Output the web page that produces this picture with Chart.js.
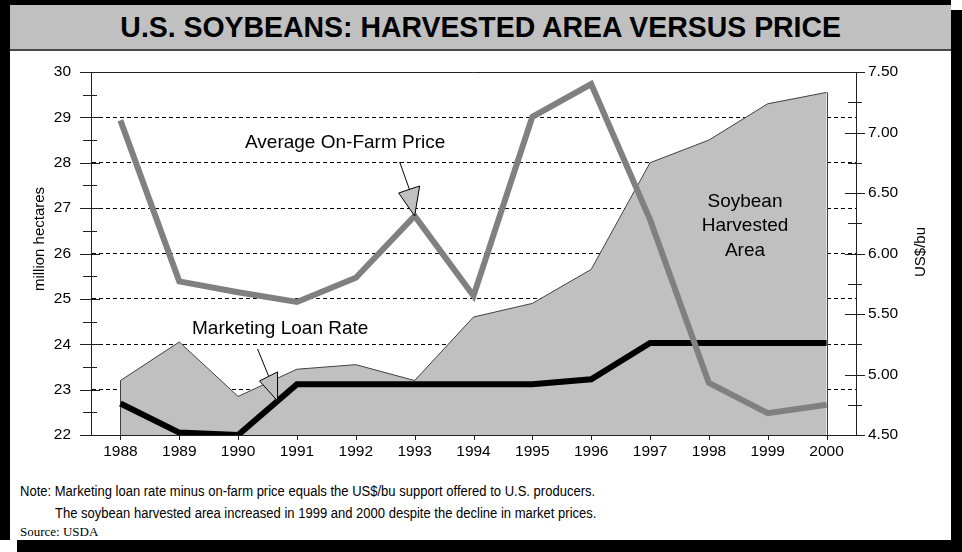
<!DOCTYPE html>
<html>
<head>
<meta charset="utf-8">
<title>U.S. Soybeans: Harvested Area versus Price</title>
<script src="https://cdn.jsdelivr.net/npm/chart.js@4.4.1/dist/chart.umd.min.js"></script>
<style>
  html, body { margin: 0; padding: 0; background: #fff; }
  #page { position: relative; width: 962px; height: 552px; overflow: hidden; background: #fff;
          font-family: "Liberation Sans", Arial, sans-serif; }
  #shadow { position: absolute; left: 17px; top: 10px; width: 945px; height: 542px; background: #000; }
  #panel { position: absolute; left: 0; top: 0; width: 941px; height: 535px; background: #fff;
           border-left: 10px solid #000; border-top: 5px solid #000; }
  #titleBand { position: absolute; left: 0; top: 0; width: 941px; height: 44px; background: #c0c0c0;
               border-bottom: 2px solid #4a4a4a; display: flex; align-items: center; justify-content: center; }
  #titleBand span { font-weight: bold; font-size: 29px; color: #000; display: inline-block; transform: scaleX(0.98); }
  .note { position: absolute; font-family: "Liberation Sans", Arial, sans-serif;
          font-size: 14px; line-height: 16px; color: #000; white-space: nowrap;
          transform: scaleX(0.93); transform-origin: left center; }
  .source { font-family: "Liberation Serif", "Times New Roman", serif; font-size: 13px; transform: none; }
  #chart { position: absolute; left: 0; top: 0; }
</style>
</head>
<body>
<div id="page">
  <div id="shadow"></div>
  <div id="panel">
    <div id="titleBand"><span>U.S. SOYBEANS: HARVESTED AREA VERSUS PRICE</span></div>
  </div>
  <div class="note" style="left:20px; top:483px;">Note: Marketing loan rate minus on-farm price equals the US$/bu support offered to U.S. producers.</div>
  <div class="note" style="left:55px; top:505px;">The soybean harvested area increased in 1999 and 2000 despite the decline in market prices.</div>
  <div class="note source" style="left:20px; top:524px;">Source: USDA</div>
  <canvas id="chart" width="962" height="552"></canvas>
</div>
<script>
  // Chart data
  const years = ['1988', '1989', '1990', '1991', '1992', '1993', '1994', '1995', '1996', '1997', '1998', '1999', '2000'];
  // soybean harvested area, million hectares (left axis)
  const harvestedArea = [23.2, 24.05, 22.85, 23.45, 23.55, 23.2, 24.6, 24.9, 25.65, 28.0, 28.5, 29.3, 29.55];
  // average on-farm price, US$/bu (right axis)
  const farmPrice = [7.10, 5.77, 5.68, 5.60, 5.80, 6.31, 5.65, 7.13, 7.40, 6.28, 4.93, 4.68, 4.75];
  // marketing loan rate, US$/bu (right axis)
  const loanRate = [4.76, 4.52, 4.50, 4.92, 4.92, 4.92, 4.92, 4.92, 4.96, 5.26, 5.26, 5.26, 5.26];

  // axis ranges and tick steps
  const areaTicks = [22, 23, 24, 25, 26, 27, 28, 29, 30];
  const priceTicks = ['4.50', '5.00', '5.50', '6.00', '6.50', '7.00', '7.50'];

  const FONT = '"Liberation Sans", Arial, sans-serif';

  // tick marks, frame top line, area edges, axis titles and callouts
  const decorations = {
    id: 'decorations',
    afterDatasetDraw(chart, args) {
      if (args.index !== 2) return;
      const ctx = chart.ctx;
      const pts = args.meta.data;
      const bottom = chart.chartArea.bottom;
      ctx.save();
      ctx.strokeStyle = '#404040';
      ctx.lineWidth = 1;
      ctx.beginPath();
      [pts[0], pts[pts.length - 1]].forEach(p => {
        const x = Math.round(p.x) + 0.5;
        ctx.moveTo(x, p.y);
        ctx.lineTo(x, bottom);
      });
      ctx.stroke();
      ctx.restore();
    },
    afterDatasetsDraw(chart) {
      const ctx = chart.ctx;
      const area = chart.chartArea;
      const yL = chart.scales.y;
      const yR = chart.scales.y2;
      const xS = chart.scales.x;
      ctx.save();
      ctx.strokeStyle = '#202020';
      ctx.lineWidth = 1;
      ctx.beginPath();
      // top frame line
      ctx.moveTo(area.left, area.top + 0.5);
      ctx.lineTo(area.right, area.top + 0.5);
      // left axis ticks
      for (let v = areaTicks[0]; v <= areaTicks[areaTicks.length - 1]; v += 0.5) {
        const y = Math.round(yL.getPixelForValue(v)) + 0.5;
        const major = Number.isInteger(v);
        ctx.moveTo(area.left - (major ? 11 : 8), y);
        ctx.lineTo(area.left + (major ? 9 : 6), y);
      }
      // right axis ticks
      const pMin = parseFloat(priceTicks[0]);
      const pMax = parseFloat(priceTicks[priceTicks.length - 1]);
      for (let i = 0; pMin + i * 0.25 <= pMax + 1e-9; i++) {
        const y = Math.round(yR.getPixelForValue(pMin + i * 0.25)) + 0.5;
        const major = i % 2 === 0;
        ctx.moveTo(area.right - (major ? 11 : 8), y);
        ctx.lineTo(area.right + (major ? 9 : 6), y);
      }
      // category ticks
      years.forEach((yr, i) => {
        const x = Math.round(xS.getPixelForValue(i)) + 0.5;
        ctx.moveTo(x, area.bottom);
        ctx.lineTo(x, area.bottom + 5);
      });
      ctx.stroke();

      // axis titles
      ctx.fillStyle = '#000';
      ctx.font = '15px ' + FONT;
      ctx.textAlign = 'center';
      ctx.textBaseline = 'middle';
      ctx.save();
      ctx.translate(40, 239);
      ctx.rotate(-Math.PI / 2);
      ctx.fillText('million hectares', 0, 0);
      ctx.restore();
      ctx.save();
      ctx.translate(921, 252);
      ctx.rotate(-Math.PI / 2);
      ctx.fillText('US$/bu', 0, 0);
      ctx.restore();

      // callout labels
      ctx.font = '19px ' + FONT;
      ctx.textAlign = 'left';
      ctx.fillText('Average On-Farm Price', 245, 143);
      ctx.fillText('Marketing Loan Rate', 192, 329);
      ctx.textAlign = 'center';
      ctx.fillText('Soybean', 745, 202);
      ctx.fillText('Harvested', 745, 226);
      ctx.fillText('Area', 745, 251);

      // arrows pointing at the series
      const arrow = (tx, ty, tail, tri) => {
        ctx.strokeStyle = '#000';
        ctx.lineWidth = 1;
        ctx.beginPath();
        ctx.moveTo(tx + tail[0][0], ty + tail[0][1]);
        ctx.lineTo(tx + tail[1][0], ty + tail[1][1]);
        ctx.stroke();
        ctx.fillStyle = '#c0c0c0';
        ctx.beginPath();
        ctx.moveTo(tx, ty);
        ctx.lineTo(tx + tri[0][0], ty + tri[0][1]);
        ctx.lineTo(tx + tri[1][0], ty + tri[1][1]);
        ctx.closePath();
        ctx.fill();
        ctx.stroke();
      };
      const priceMeta = chart.getDatasetMeta(0).data;
      const p93 = priceMeta[5];
      arrow(p93.x, p93.y, [[-15, -54], [-5, -26]], [[-16, -23], [5, -30]]);
      const loanMeta = chart.getDatasetMeta(1).data;
      const a = loanMeta[2], b = loanMeta[3], t = 0.67;
      arrow(a.x + (b.x - a.x) * t, a.y + (b.y - a.y) * t, [[-20, -52], [-9, -25]], [[-18, -20], [0, -29]]);
      ctx.restore();
    }
  };

  const ctx = document.getElementById('chart').getContext('2d');

  const soyChart = new Chart(ctx, {
    type: 'line',
    data: {
      labels: years,
      datasets: [
        {
          label: 'Average On-Farm Price',
          data: farmPrice,
          yAxisID: 'y2',
          borderColor: '#808080',
          borderWidth: 6,
          pointRadius: 0,
          fill: false,
          order: 1
        },
        {
          label: 'Marketing Loan Rate',
          data: loanRate,
          yAxisID: 'y2',
          borderColor: '#000000',
          borderWidth: 6,
          pointRadius: 0,
          fill: false,
          order: 2
        },
        {
          label: 'Soybean Harvested Area',
          data: harvestedArea,
          yAxisID: 'y',
          borderColor: '#404040',
          backgroundColor: '#c0c0c0',
          borderWidth: 1,
          pointRadius: 0,
          fill: 'start',
          order: 3
        }
      ]
    },
    options: {
      responsive: false,
      animation: false,
      layout: { padding: { top: 72, left: 0, right: 0, bottom: 0 } },
      plugins: {
        legend: { display: false },
        tooltip: { enabled: false }
      },
      scales: {
        x: {
          offset: true,
          grid: { display: false, drawTicks: false },
          border: { display: true, color: '#202020', width: 1 },
          ticks: { color: '#000', font: { family: FONT, size: 15.5 }, padding: 7, maxRotation: 0 },
          afterFit(s) { s.height = 117; }
        },
        y: {
          position: 'left',
          min: areaTicks[0],
          max: areaTicks[areaTicks.length - 1],
          ticks: { stepSize: 1, color: '#000', font: { family: FONT, size: 15.5 }, padding: 20 },
          grid: {
            drawTicks: false,
            lineWidth: 1,
            color: c => (c.tick && (c.tick.value === areaTicks[0] || c.tick.value === areaTicks[areaTicks.length - 1])) ? 'rgba(0,0,0,0)' : '#000'
          },
          border: { display: true, color: '#202020', width: 1, dash: [4, 3] },
          afterFit(s) { s.width = 91; }
        },
        y2: {
          position: 'right',
          min: parseFloat(priceTicks[0]),
          max: parseFloat(priceTicks[priceTicks.length - 1]),
          ticks: {
            stepSize: 0.5,
            color: '#000',
            font: { family: FONT, size: 15.5 },
            padding: 12,
            callback: (v, i) => priceTicks[i]
          },
          grid: { drawOnChartArea: false, drawTicks: false },
          border: { display: true, color: '#202020', width: 1 },
          afterFit(s) { s.width = 106; }
        }
      }
    },
    plugins: [decorations]
  });
</script>
</body>
</html>
